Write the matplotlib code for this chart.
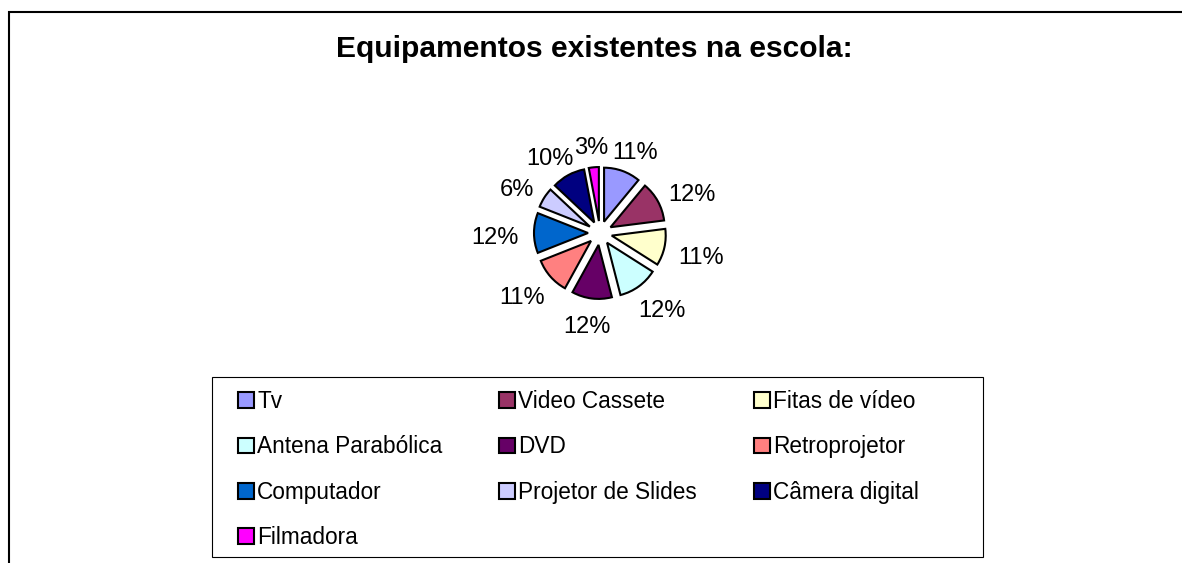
import math
import matplotlib
matplotlib.use('Agg')
import matplotlib.pyplot as plt
from matplotlib.patches import Patch, Rectangle

categories = ['Tv', 'Video Cassete', 'Fitas de vídeo', 'Antena Parabólica', 'DVD',
              'Retroprojetor', 'Computador', 'Projetor de Slides', 'Câmera digital', 'Filmadora']
values = [11, 12, 11, 12, 12, 11, 12, 6, 10, 3]
colors = ['#9999FF', '#993366', '#FFFFCC', '#CCFFFF', '#660066',
          '#FF8080', '#0066CC', '#CCCCFF', '#000080', '#FF00FF']
title = 'Equipamentos existentes na escola:'

plt.rcParams['font.family'] = ['Liberation Sans', 'DejaVu Sans']

W, H = 1182, 563
fig = plt.figure(figsize=(W / 100, H / 100), dpi=100)

# outer border (open at right and bottom as in the reference crop)
fig.add_artist(Rectangle((8.5 / W, -0.1), 1.2, (H - 12.5) / H + 0.1,
                         transform=fig.transFigure, fill=False, ec='black', lw=1.5))

fig.text(594 / W, 1 - 57 / H, title, ha='center', va='baseline',
         fontsize=21.6, fontweight='bold')

# pie axes in pixel-like data units
cx, cy, half = 600, 233, 150
ax = fig.add_axes([(cx - half) / W, (H - cy - half) / H, 2 * half / W, 2 * half / H])
radius, expl = 54, 12
wedges, _, autotexts = ax.pie(values, explode=[expl] * len(values), radius=radius,
                              startangle=90, counterclock=False, colors=colors,
                              wedgeprops=dict(edgecolor='black', linewidth=1.5),
                              autopct='%.0f%%', pctdistance=1.6,
                              textprops=dict(fontsize=17, color='black'))
ax.set_xlim(-half, half)
ax.set_ylim(-half, half)
ax.axis('off')

# place labels outside like Excel: box edge at fixed gap beyond the wedge
fig.canvas.draw()
renderer = fig.canvas.get_renderer()
gap, hh, drop = 15, 9, 5
for w, t in zip(wedges, autotexts):
    th = math.radians((w.theta1 + w.theta2) / 2)
    ux, uy = math.cos(th), math.sin(th)
    hw = t.get_window_extent(renderer).width / 2
    x0, y0 = w.center
    t.set_position((x0 + (radius + gap) * ux + hw * ux,
                    y0 + (radius + gap) * uy + hh * uy - drop))
    t.set_ha('center')
    t.set_va('center')

# legend box
fig.add_artist(Rectangle((212 / W, 1 - 557 / H), (983 - 212) / W, (557 - 377) / H,
                         transform=fig.transFigure, fill=False, ec='black', lw=0.8))

handles = [Patch(facecolor=c, edgecolor='black', linewidth=1.5) for c in colors]
order = [0, 3, 6, 9, 1, 4, 7, 2, 5, 8]
fig.legend([handles[i] for i in order], [categories[i] for i in order],
           ncol=3, loc='upper left', bbox_to_anchor=(238 / W, 1 - 390 / H),
           frameon=False, fontsize=16.3, borderpad=0, borderaxespad=0,
           handlelength=0.7, handleheight=0.7, handletextpad=0.15,
           columnspacing=2.5, labelspacing=0.99)

fig.savefig('out.png', dpi=100)
